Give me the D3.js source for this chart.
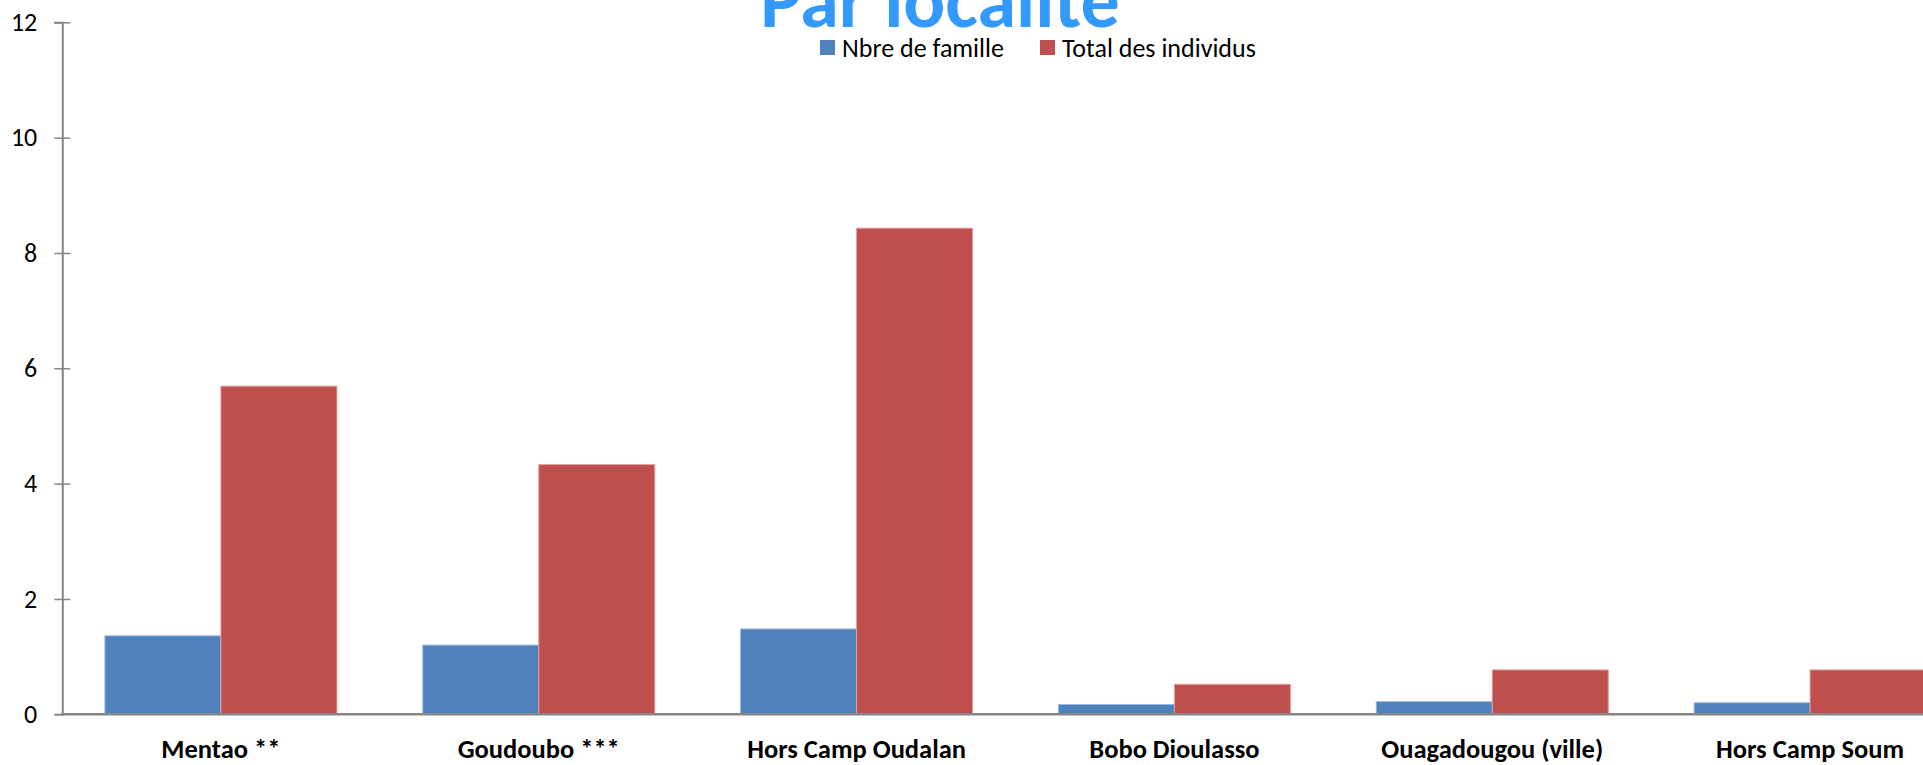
<!DOCTYPE html>
<html>
<head>
<meta charset="utf-8">
<script src="https://cdn.jsdelivr.net/npm/d3@7"></script>
<style>
  body { margin: 0; background: #fff; }
  svg { display: block; font-family: Carlito, Calibri, Lato, "Liberation Sans", sans-serif; }
</style>
</head>
<body>
<div class="chart"></div>
<script>
// data
var localites = ["Mentao **", "Goudoubo ***", "Hors Camp Oudalan", "Bobo Dioulasso", "Ouagadougou (ville)", "Hors Camp Soum"];
var nbreFamille = [1.36, 1.2, 1.48, 0.17, 0.22, 0.2];
var totalIndividus = [5.69, 4.33, 8.43, 0.52, 0.77, 0.77];
var seriesNames = ["Nbre de famille", "Total des individus"];
var seriesColors = ["#4F81BD", "#C0504D"];
var seriesStrokes = ["#9db8db", "#e0a09e"];
var yTicks = [0, 2, 4, 6, 8, 10, 12];

var svgWidth = 1923;
var svgHeight = 765;

var svg = d3.select(".chart")
  .append("svg")
  .attr("width", svgWidth)
  .attr("height", svgHeight);

// scales
var xScale = d3.scaleBand()
  .domain(localites)
  .range([62, 1969])
  .paddingInner(0.27)
  .paddingOuter(0.135);

var xSub = d3.scaleBand()
  .domain(seriesNames)
  .range([0, xScale.bandwidth()]);

var yScale = d3.scaleLinear()
  .domain([0, 12])
  .range([714.3, 22.3]);

var rows = localites.map(function(d, i) {
  return { loc: d, values: [nbreFamille[i], totalIndividus[i]] };
});

// bars
var groups = svg.append("g").selectAll("g")
  .data(rows)
  .enter().append("g")
  .attr("transform", d => `translate(${xScale(d.loc)},0)`);

groups.selectAll("rect")
  .data(d => d.values.map((v, j) => ({ name: seriesNames[j], value: v, j: j })))
  .enter().append("rect")
  .attr("x", d => xSub(d.name))
  .attr("y", d => yScale(d.value))
  .attr("width", xSub.bandwidth())
  .attr("height", d => yScale(0) - yScale(d.value))
  .attr("fill", d => seriesColors[d.j])
  .attr("stroke", d => seriesStrokes[d.j])
  .attr("stroke-width", 1);

// y axis
var yAxis = svg.append("g")
  .attr("transform", "translate(62.3,0)")
  .call(d3.axisLeft(yScale).tickValues(yTicks).tickSize(8).tickPadding(17));

yAxis.select(".domain").attr("stroke", "#868686").attr("stroke-width", 2);
yAxis.selectAll(".tick line")
  .attr("stroke", "#868686")
  .attr("stroke-width", 1.5)
  .attr("x2", d => d === 0 ? -8 : 8)
  .attr("x1", -8);
yAxis.selectAll(".tick text")
  .attr("font-family", "Carlito, Calibri, Lato, sans-serif")
  .attr("font-size", 26)
  .attr("fill", "#000");

// x axis
var xAxis = svg.append("g")
  .attr("transform", `translate(0,${yScale(0)})`)
  .call(d3.axisBottom(xScale).tickSize(0).tickPadding(25));

xAxis.select(".domain")
  .attr("d", `M61.3,0H${svgWidth}`)
  .attr("stroke", "#868686")
  .attr("stroke-width", 2.5);
xAxis.selectAll(".tick text")
  .attr("font-family", "Carlito, Calibri, Lato, sans-serif")
  .attr("font-size", 26.5)
  .attr("font-weight", "bold")
  .attr("fill", "#000")
  .attr("dy", "0.71em");

// title (cut at top like the original)
svg.append("text")
  .attr("x", 940)
  .attr("y", 27)
  .attr("text-anchor", "middle")
  .attr("font-size", 78)
  .attr("font-weight", "bold")
  .attr("fill", "#3399FF")
  .text("Par localité");

// legend
var legendX = [820, 1040];
var legend = svg.append("g").selectAll("g")
  .data(seriesNames)
  .enter().append("g")
  .attr("transform", (d, i) => `translate(${legendX[i]},0)`);

legend.append("rect")
  .attr("x", 0)
  .attr("y", 40)
  .attr("width", 15)
  .attr("height", 15)
  .attr("fill", (d, i) => seriesColors[i]);

legend.append("text")
  .attr("x", 22)
  .attr("y", 56.5)
  .attr("font-size", 26)
  .attr("fill", "#000")
  .text(d => d);
</script>
</body>
</html>
